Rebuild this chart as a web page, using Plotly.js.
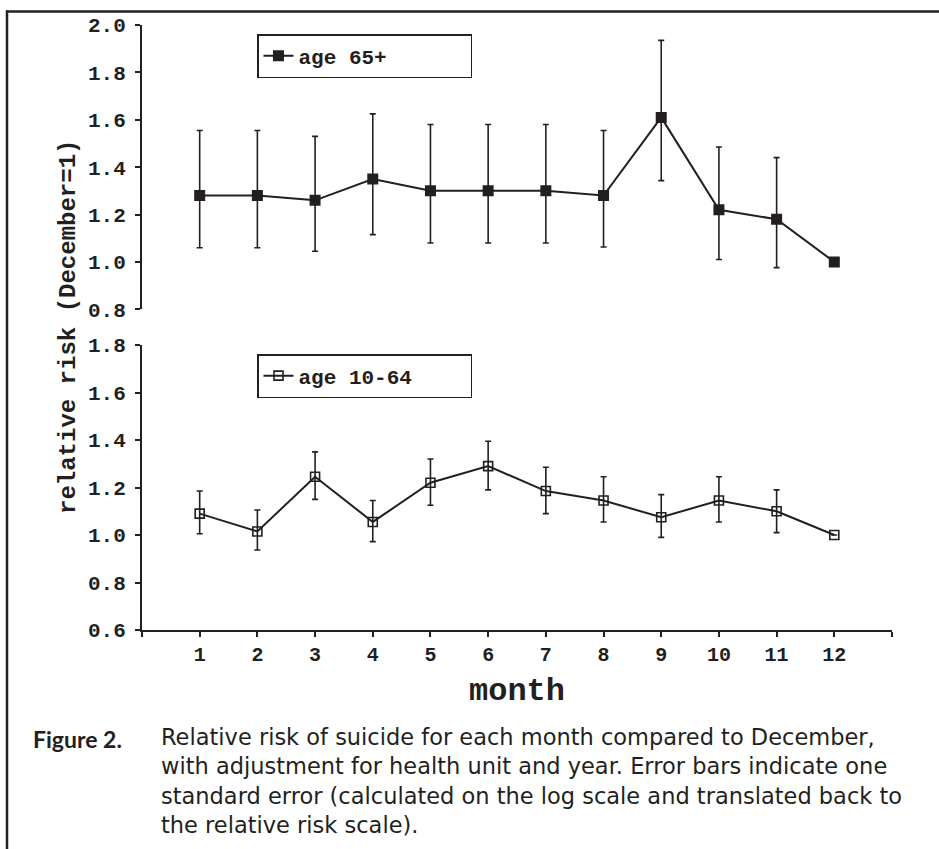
<!DOCTYPE html>
<html>
<head>
<meta charset="utf-8">
<script src="https://cdn.plot.ly/plotly-3.0.1.min.js"></script>
<style>
  html, body { margin: 0; padding: 0; background: #fff; }
  #chart { width: 939px; height: 849px; }
</style>
</head>
<body>
<div id="chart"></div>
<script>
// ---- data ----
const months = [1, 2, 3, 4, 5, 6, 7, 8, 9, 10, 11, 12];
const monthTickVals = [0, 1, 2, 3, 4, 5, 6, 7, 8, 9, 10, 11, 12, 13];
const monthTickText = ['', '1', '2', '3', '4', '5', '6', '7', '8', '9', '10', '11', '12', ''];

// age 65+ : relative risk and one-standard-error bounds
const rr65    = [1.28, 1.28, 1.26, 1.35, 1.30, 1.30, 1.30, 1.28, 1.61, 1.22, 1.18, 1.00];
const upper65 = [1.555, 1.555, 1.53, 1.625, 1.58, 1.58, 1.58, 1.555, 1.935, 1.485, 1.44, 1.00];
const lower65 = [1.06, 1.06, 1.045, 1.115, 1.08, 1.08, 1.08, 1.063, 1.343, 1.01, 0.976, 1.00];

// age 10-64
const rr1064    = [1.09, 1.015, 1.245, 1.055, 1.22, 1.29, 1.185, 1.145, 1.075, 1.145, 1.10, 1.00];
const upper1064 = [1.185, 1.105, 1.35, 1.145, 1.32, 1.395, 1.285, 1.245, 1.17, 1.245, 1.19, 1.00];
const lower1064 = [1.005, 0.937, 1.15, 0.972, 1.125, 1.19, 1.09, 1.055, 0.99, 1.055, 1.01, 1.00];

const topTicks = [0.8, 1.0, 1.2, 1.4, 1.6, 1.8, 2.0];
const bottomTicks = [0.6, 0.8, 1.0, 1.2, 1.4, 1.6, 1.8];

const captionLabel = 'Figure 2.';
const captionLines = [
  'Relative risk of suicide for each month compared to December,',
  'with adjustment for health unit and year. Error bars indicate one',
  'standard error (calculated on the log scale and translated back to',
  'the relative risk scale).'
];

// ---- helpers ----
const W = 939, H = 849;
const px = v => v / W;
const py = v => 1 - v / H;
const ink = '#231f20';
const mono = '"Liberation Mono", "Courier New", monospace';
const capFont = '"DejaVu Sans", "Open Sans", sans-serif';
const diff = (a, b) => a.map((v, i) => v - b[i]);

const traces = [
  {
    x: months, y: rr65, xaxis: 'x', yaxis: 'y',
    type: 'scatter', mode: 'lines+markers', name: 'age 65+',
    legend: 'legend',
    line: { color: ink, width: 2 },
    marker: { symbol: 'square', size: 11, color: ink },
    error_y: { type: 'data', symmetric: false,
      array: diff(upper65, rr65), arrayminus: diff(rr65, lower65),
      color: ink, thickness: 1.6, width: 3 }
  },
  {
    x: months, y: rr1064, xaxis: 'x2', yaxis: 'y2',
    type: 'scatter', mode: 'lines+markers', name: 'age 10-64',
    legend: 'legend2',
    line: { color: ink, width: 2 },
    marker: { symbol: 'square-open', size: 9, color: ink, line: { width: 1.6, color: ink } },
    error_y: { type: 'data', symmetric: false,
      array: diff(upper1064, rr1064), arrayminus: diff(rr1064, lower1064),
      color: ink, thickness: 1.6, width: 3 }
  }
];

const yCommon = {
  showline: true, linecolor: ink, linewidth: 2,
  ticks: 'outside', ticklen: 5, tickwidth: 2, tickcolor: ink,
  showgrid: false, zeroline: false, tickformat: '.1f',
  tickfont: { family: mono, size: 21, color: ink, weight: 'bold' },
  ticklabelstandoff: 5
};

const legendCommon = {
  xanchor: 'left', yanchor: 'top', xref: 'paper', yref: 'paper',
  orientation: 'h', entrywidth: 167, entrywidthmode: 'pixels',
  bgcolor: '#fff', bordercolor: ink, borderwidth: 1.5,
  font: { family: mono, size: 21, color: ink, weight: 'bold' },
  itemwidth: 30, tracegroupgap: 0
};

const layout = {
  width: W, height: H,
  margin: { l: 0, r: 0, t: 0, b: 0 },
  paper_bgcolor: '#fff', plot_bgcolor: 'rgba(0,0,0,0)',
  showlegend: true,
  xaxis: { domain: [px(142), px(892)], range: [0, 13], anchor: 'y',
    visible: false, showgrid: false, zeroline: false },
  yaxis: Object.assign({}, yCommon, { domain: [py(309.3), py(25)], range: [0.8, 2.0],
    tickvals: topTicks, anchor: 'x' }),
  xaxis2: { domain: [px(142), px(892)], range: [0, 13], anchor: 'y2',
    showline: true, linecolor: ink, linewidth: 2,
    ticks: 'outside', ticklen: 5, tickwidth: 2, tickcolor: ink,
    tickvals: monthTickVals, ticktext: monthTickText,
    showgrid: false, zeroline: false,
    tickfont: { family: mono, size: 20, color: ink, weight: 'bold' },
    title: { text: 'month', standoff: 12,
      font: { family: mono, size: 32, color: ink, weight: 'bold' } } },
  yaxis2: Object.assign({}, yCommon, { domain: [py(630), py(345)], range: [0.6, 1.8],
    tickvals: bottomTicks, anchor: 'x2' }),
  legend: Object.assign({}, legendCommon, { x: px(257), y: py(34) }),
  legend2: Object.assign({}, legendCommon, { x: px(257), y: py(354) }),
  annotations: [
    { xref: 'paper', yref: 'paper', x: px(68), y: py(327), textangle: -90,
      text: 'relative risk (December=1)', showarrow: false,
      xanchor: 'center', yanchor: 'middle',
      font: { family: mono, size: 24, color: ink, weight: 'bold' } },
    { xref: 'paper', yref: 'paper', x: px(31), y: py(739),
      text: '<b>' + captionLabel + '</b>', showarrow: false,
      xanchor: 'left', yanchor: 'middle',
      font: { family: 'Lato, sans-serif', size: 23, color: ink } },
    { xref: 'paper', yref: 'paper', x: px(159), y: py(722),
      text: captionLines.join('<br>'), showarrow: false, align: 'left',
      xanchor: 'left', yanchor: 'top',
      font: { family: capFont, size: 22.5, color: ink } }
  ],
  shapes: [
    { type: 'line', xref: 'paper', yref: 'paper', x0: px(6), x1: 1, y0: py(11.5), y1: py(11.5),
      line: { color: ink, width: 2.5 } },
    { type: 'line', xref: 'paper', yref: 'paper', x0: px(7), x1: px(7), y0: py(10.5), y1: 0,
      line: { color: ink, width: 2.5 } }
  ]
};

Plotly.newPlot('chart', traces, layout, { displayModeBar: false, staticPlot: true });
</script>
</body>
</html>
